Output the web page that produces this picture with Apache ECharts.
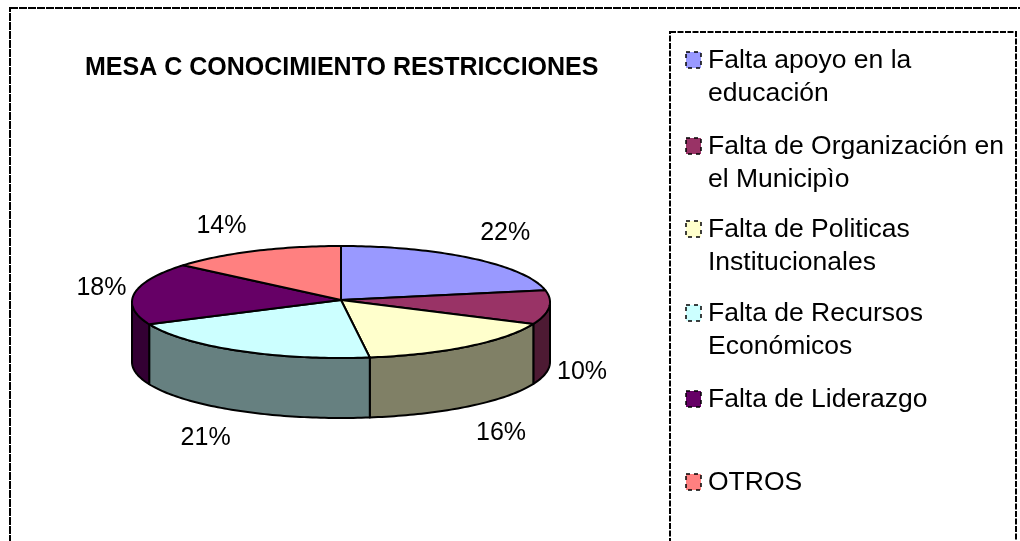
<!DOCTYPE html>
<html><head><meta charset="utf-8">
<style>html,body{margin:0;padding:0;background:#fff}#c{width:1020px;height:541px}</style>
<script src="https://cdn.jsdelivr.net/npm/echarts@6/dist/echarts.min.js"></script>
</head><body><div id="c"></div>
<script>
const titleText = 'MESA C CONOCIMIENTO RESTRICCIONES';
const categories = ['Falta apoyo en la\neducación','Falta de Organización en\nel Municipìo','Falta de Politicas\nInstitucionales','Falta de Recursos\nEconómicos','Falta de Liderazgo','OTROS'];
const values = [21.6,9.8,16.4,20.7,17.9,13.6];
const topColors = ['#9999ff','#993366','#ffffcc','#ccffff','#660066','#ff8080'];
const sideColors = ['#4d4d80','#4d1a33','#808066','#668080','#330033','#804040'];

const total = values.reduce((a,b)=>a+b,0);
const CX=341, CY=302, APEX=300, RX=209, RY=56, DEPTH=60;
const FONT='"Liberation Sans",Arial,sans-serif';
const pt=(t,dy)=>[CX+RX*Math.sin(t), CY-RY*Math.cos(t)+(dy||0)];
function arc(a,b,dy){const n=Math.max(2,Math.ceil((b-a)/0.02));const r=[];for(let i=0;i<=n;i++)r.push(pt(a+(b-a)*i/n,dy));return r;}
const starts=[];values.reduce((s,v,i)=>{starts[i]=s;return s+v;},0);

function renderSlice(params,api){
  const i=params.dataIndex, v=api.value(0);
  const a=starts[i]/total*2*Math.PI, b=(starts[i]+v)/total*2*Math.PI;
  const children=[];
  const fa=Math.max(a,Math.PI/2), fb=Math.min(b,3*Math.PI/2);
  const stroke={stroke:'#000',lineWidth:2,lineJoin:'round'};
  if(fb>fa){
    const top=arc(fa,fb,0), bot=arc(fa,fb,DEPTH).reverse();
    children.push({type:'polygon',shape:{points:top.concat(bot)},style:{fill:sideColors[i],...stroke}});
  }
  children.push({type:'polygon',shape:{points:[[CX,APEX]].concat(arc(a,b,0))},style:{fill:topColors[i],...stroke}});
  const m=(a+b)/2, s=Math.sin(m), c=Math.cos(m);
  const lx=CX+RX*s+33*Math.sign(s);
  const ly=CY+1-RY*c-Math.sign(c)*26*Math.min(1,Math.abs(c)/0.6)+(c<0?DEPTH:0);
  children.push({type:'text',style:{x:lx,y:ly,text:Math.round(v)+'%',fill:'#000',font:'25px '+FONT,textAlign:'center',textVerticalAlign:'middle'},z2:10});
  return {type:'group',children};
}

const legendGraphics=[];
const rowTop=[60,146,229,313,399,482];
categories.forEach((name,i)=>{
  legendGraphics.push({type:'rect',shape:{x:686,y:rowTop[i]-8,width:15,height:16},style:{fill:topColors[i],stroke:null}});
  legendGraphics.push({type:'rect',shape:{x:686,y:rowTop[i]-8,width:15,height:16},style:{fill:null,stroke:'#000',lineWidth:1.5,lineDash:[4,4]}});
  legendGraphics.push({type:'text',style:{x:708,y:rowTop[i]-16,text:name,fill:'#000',font:'26.5px '+FONT,lineHeight:33,textAlign:'left',textVerticalAlign:'top'}});
});

const chart=echarts.init(document.getElementById('c'),null,{renderer:'canvas'});
chart.setOption({
  animation:false,
  backgroundColor:'#fff',
  title:{text:titleText,left:85,top:56,padding:0,textStyle:{fontFamily:FONT,fontSize:25,fontWeight:'bold',color:'#000'}},
  graphic:[
    {type:'rect',shape:{x:10,y:8,width:1040,height:600},style:{fill:null,stroke:'#000',lineWidth:2,lineDash:[8,1]}},
    {type:'rect',shape:{x:670,y:32,width:346,height:600},style:{fill:null,stroke:'#000',lineWidth:2,lineDash:[6,1.5]}},
    ...legendGraphics
  ],
  series:[{type:'custom',coordinateSystem:'none',renderItem:renderSlice,
    data:values.map((v,i)=>({name:categories[i],value:[v]}))}]
});
</script></body></html>
